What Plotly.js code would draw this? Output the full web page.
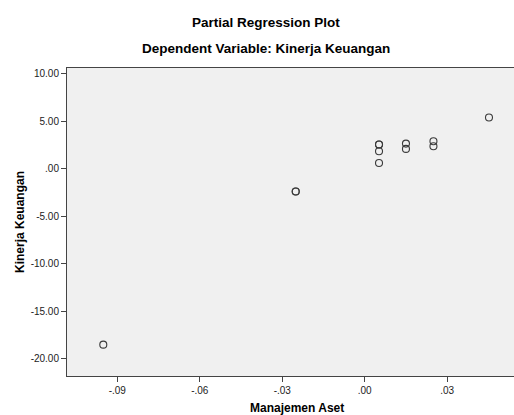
<!DOCTYPE html>
<html>
<head>
<meta charset="utf-8">
<script src="https://cdn.plot.ly/plotly-3.0.1.min.js"></script>
<style>html,body{margin:0;padding:0;background:#fff;}#chart{width:514px;height:415px;}</style>
</head>
<body>
<div id="chart"></div>
<script>
const manajemenAset = [-0.0951, -0.0251, -0.0251, 0.0052, 0.0052, 0.0052, 0.0052, 0.0150, 0.0150, 0.0250, 0.0250, 0.0452];
const kinerjaKeuangan = [-18.5, -2.37, -2.37, 2.57, 2.57, 1.86, 0.63, 2.67, 2.11, 2.92, 2.39, 5.42];
const xTickVals = [-0.09, -0.06, -0.03, 0.00, 0.03];
const xTickText = ['-.09', '-.06', '-.03', '.00', '.03'];
const yTickVals = [10, 5, 0, -5, -10, -15, -20];
const yTickText = ['10.00', '5.00', '.00', '-5.00', '-10.00', '-15.00', '-20.00'];

const L = 67, R = 0, T = 68, B = 39, W = 514, H = 415;
const pw = W - L - R;
const px = v => (v - L) / pw;

const trace = {
  x: manajemenAset, y: kinerjaKeuangan, type: 'scatter', mode: 'markers',
  marker: {symbol: 'circle-open', size: 7, color: '#3a3a3a', line: {width: 1.1, color: '#3a3a3a'}},
  hoverinfo: 'none'
};
const tfont = {family: 'Liberation Sans, Arial, sans-serif', size: 12, color: '#000'};
const hfont = {family: 'Liberation Sans, Arial, sans-serif', size: 13.5, color: '#000'};
const layout = {
  width: W, height: H,
  margin: {l: L, r: R, t: T, b: B, pad: 0},
  paper_bgcolor: '#ffffff', plot_bgcolor: '#f0f0f0',
  showlegend: false,
  font: {family: 'Liberation Sans, Arial, sans-serif', size: 10, color: '#222'},
  xaxis: {
    range: [-0.1083, 0.0543], tickvals: xTickVals, ticktext: xTickText,
    showgrid: false, zeroline: false, showline: true, mirror: true, linecolor: '#444', linewidth: 1,
    ticks: 'outside', ticklen: 5, tickcolor: '#444', tickwidth: 1,
    tickfont: {size: 10, color: '#222'}
  },
  yaxis: {
    range: [-21.8, 10.63], tickvals: yTickVals, ticktext: yTickText,
    showgrid: false, zeroline: false, showline: true, linecolor: '#444', linewidth: 1,
    ticks: 'outside', ticklen: 5, tickcolor: '#444', tickwidth: 1,
    tickfont: {size: 10, color: '#222'}
  },
  annotations: [
    {text: '<b>Partial Regression Plot</b>', xref: 'paper', yref: 'paper', x: px(266), y: 1 + (T - 22) / (H - T - B), showarrow: false, font: hfont, xanchor: 'center', yanchor: 'middle'},
    {text: '<b>Dependent Variable: Kinerja Keuangan</b>', xref: 'paper', yref: 'paper', x: px(266), y: 1 + (T - 48) / (H - T - B), showarrow: false, font: hfont, xanchor: 'center', yanchor: 'middle'},
    {text: '<b>Manajemen Aset</b>', xref: 'paper', yref: 'paper', x: px(297), y: -(408 - (H - B)) / (H - T - B), showarrow: false, font: tfont, xanchor: 'center', yanchor: 'middle'},
    {text: '<b>Kinerja Keuangan</b>', xref: 'paper', yref: 'paper', x: px(20), y: 0.5, showarrow: false, font: tfont, textangle: -90, xanchor: 'center', yanchor: 'middle'}
  ]
};
Plotly.newPlot('chart', [trace], layout, {displayModeBar: false, staticPlot: true});
</script>
</body>
</html>
